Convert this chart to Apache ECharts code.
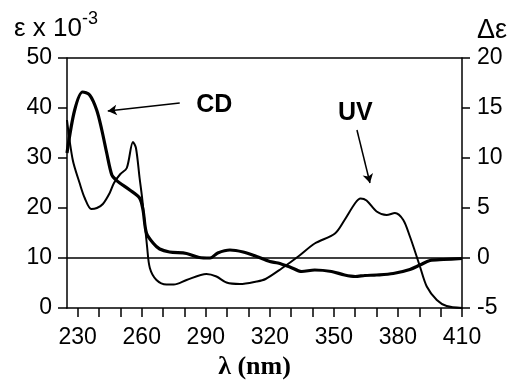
<!DOCTYPE html>
<html>
<head>
<meta charset="utf-8">
<script src="https://cdn.jsdelivr.net/npm/echarts@6/dist/echarts.min.js"></script>
<style>
html,body{margin:0;padding:0;background:#fff;}
#chart{width:517px;height:386px;}
</style>
</head>
<body>
<div id="chart"></div>
<script>
// CD spectrum (right axis, Δε)
var cdLambda = [225, 228.6, 232.3, 235.6, 238.9, 241.3, 243.6, 246, 248, 249.7, 254.4, 259, 260.6, 262.2, 265.3, 268.4, 273, 281, 287, 292, 295.6, 301.3, 307.5, 313.8, 320, 323.8, 329.4, 334.9, 341, 348.9, 355, 360, 364.5, 370, 377.8, 385.6, 390.3, 395, 401.3, 410];
var cdValues = [10.5, 14.8, 16.6, 16.3, 14.8, 12.8, 10.5, 8.3, 7.8, 7.5, 6.8, 6, 4.8, 2.5, 1.5, 0.9, 0.6, 0.45, 0.05, 0, 0.5, 0.8, 0.6, 0.15, -0.35, -0.5, -0.9, -1.35, -1.2, -1.35, -1.7, -1.85, -1.75, -1.7, -1.55, -1.15, -0.7, -0.25, -0.15, -0.05];
// UV spectrum (left axis, ε x 10^-3)
var uvLambda = [225, 227.7, 230.9, 233.3, 236.4, 239, 241.8, 245, 247, 250, 253, 255.9, 257.3, 259, 260.3, 262.5, 263.8, 266.9, 271.6, 275, 281, 290.3, 295, 299.7, 306, 313.8, 318, 325.5, 333.3, 341, 350.5, 355, 360, 362.5, 365.3, 370, 374.7, 378.6, 382.5, 385.6, 388, 390.3, 393.5, 398.2, 402.8, 410];
var uvValues = [37.6, 29.6, 25, 22, 19.8, 20, 20.8, 23, 25, 26.8, 28, 33.2, 32, 26, 21.6, 12.3, 8, 5.6, 4.7, 4.7, 5.6, 6.8, 6.3, 5.1, 4.8, 5.3, 5.8, 7.9, 10.3, 12.9, 14.9, 17.6, 21, 21.9, 21.5, 19.3, 18.6, 19, 17.6, 14.3, 11.3, 8.3, 4.3, 1.6, 0.4, 0];
// axis ticks and labels
var xTickValues = [230, 240, 250, 260, 270, 280, 290, 300, 310, 320, 330, 340, 350, 360, 370, 380, 390, 400, 410];
var xLabelValues = [230, 260, 290, 320, 350, 380, 410];
// annotations (data coordinates on the left axis)
var cdLabelPos = [294, 40.6];
var cdArrow = [[277.8, 41], [244.1, 39.4]];
var uvLabelPos = [360, 39];
var uvArrow = [[360.8, 35.6], [366.9, 25]];

function zip(a, b) { return a.map(function (v, i) { return [v, b[i]]; }); }

var chart = echarts.init(document.getElementById('chart'), null, {renderer: 'canvas'});
var sans = 'Liberation Sans, Arial, sans-serif';
var labelFont = {color: '#000', fontSize: 23, fontFamily: sans};
var axisLineStyle = {color: '#000', width: 1.5};

chart.setOption({
  animation: false,
  backgroundColor: '#fff',
  grid: {left: 67, right: 55, top: 58, bottom: 78, containLabel: false},
  xAxis: {
    type: 'value', min: 225, max: 410,
    name: 'λ (nm)', nameLocation: 'middle', nameGap: 45,
    nameTextStyle: {color: '#000', fontSize: 26, fontWeight: 'bold', fontFamily: 'Liberation Serif, Times New Roman, serif', padding: [0, 20, 0, 0]},
    axisLine: {show: true, onZero: false, lineStyle: axisLineStyle},
    axisTick: {show: true, inside: false, length: 9, lineStyle: axisLineStyle, customValues: xTickValues},
    axisLabel: Object.assign({margin: 18, customValues: xLabelValues}, labelFont),
    splitLine: {show: false}
  },
  yAxis: [{
    type: 'value', min: 0, max: 50, interval: 10, position: 'left',
    name: '{a|ε x 10}{b|-3}', nameLocation: 'end', nameGap: 16,
    nameTextStyle: {color: '#000', fontSize: 26, fontFamily: sans, padding: [0, 22, 0, 0], rich: {
      a: {color: '#000', fontSize: 26, fontFamily: sans, verticalAlign: 'bottom'},
      b: {color: '#000', fontSize: 18, fontFamily: sans, verticalAlign: 'top', padding: [0, 0, 14, 0]}
    }},
    axisLine: {show: true, lineStyle: axisLineStyle},
    axisTick: {show: true, inside: false, length: 9, lineStyle: axisLineStyle},
    axisLabel: Object.assign({margin: 15}, labelFont),
    splitLine: {show: false}
  }, {
    type: 'value', min: -5, max: 20, interval: 5, position: 'right',
    name: 'Δε', nameLocation: 'end', nameGap: 14,
    nameTextStyle: {color: '#000', fontSize: 27, fontFamily: sans, align: 'left', padding: [0, 0, 0, 15]},
    axisLine: {show: true, lineStyle: axisLineStyle},
    axisTick: {show: true, inside: false, length: 8, lineStyle: axisLineStyle},
    axisLabel: Object.assign({margin: 15}, labelFont),
    splitLine: {show: false}
  }],
  series: [{
    name: 'UV', type: 'line', yAxisIndex: 0, data: zip(uvLambda, uvValues),
    smooth: 0.3, showSymbol: false, symbol: 'none',
    lineStyle: {color: '#000', width: 2},
    markLine: {
      silent: true, animation: false, symbol: 'none',
      lineStyle: {color: '#000', width: 1.5, type: 'solid'},
      label: {show: false},
      data: [
        {yAxis: 10}, {yAxis: 50},
        [{coord: cdArrow[0], symbol: 'none'}, {coord: cdArrow[1], symbol: 'arrow', symbolSize: [8, 9]}],
        [{coord: uvArrow[0], symbol: 'none'}, {coord: uvArrow[1], symbol: 'arrow', symbolSize: [8, 9]}]
      ]
    },
    markPoint: {
      silent: true, symbol: 'circle', symbolSize: 0,
      label: {show: true, position: 'inside', color: '#000', fontSize: 25, fontWeight: 'bold', fontFamily: sans},
      data: [
        {coord: cdLabelPos, label: {formatter: 'CD'}},
        {coord: uvLabelPos, label: {formatter: 'UV'}}
      ]
    }
  }, {
    name: 'CD', type: 'line', yAxisIndex: 1, data: zip(cdLambda, cdValues),
    smooth: 0.3, showSymbol: false, symbol: 'none',
    lineStyle: {color: '#000', width: 3.2}
  }]
});
</script>
</body>
</html>
